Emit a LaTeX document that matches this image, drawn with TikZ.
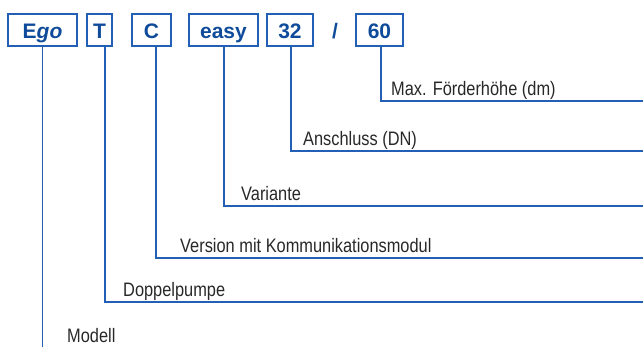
\documentclass[tikz,border=0pt]{standalone}
\usepackage{fontspec}
\setmainfont{Liberation Sans}
\newfontfamily\labfont[FakeStretch=0.84]{Liberation Sans}
\definecolor{lineblue}{RGB}{35,95,180}
\definecolor{textblue}{RGB}{15,75,155}
\definecolor{labgray}{RGB}{40,40,40}
\begin{document}
\begin{tikzpicture}[x=1pt,y=-1pt,
  codebox/.style={draw=lineblue,line width=1.3pt,minimum height=32pt,inner sep=0pt,
     text height=17pt,text depth=0pt,
     text=textblue,font=\fontsize{21}{21}\selectfont\bfseries},
  conn/.style={draw=lineblue,line width=1.3pt},
  lab/.style={anchor=base west,inner sep=0pt,text=labgray,font=\labfont\fontsize{19.5}{20}\selectfont}]
\useasboundingbox (0,0) rectangle (643,347);
% code boxes
\node[codebox,minimum width=69pt] (ego) at (42.5,30) {E\textit{go}};
\node[codebox,minimum width=25pt] (t) at (99.5,30) {T};
\node[codebox,minimum width=39pt] (c) at (151.5,30) {C};
\node[codebox,minimum width=69pt] (easy) at (223.5,30) {easy};
\node[codebox,minimum width=46pt] (dn) at (290,30) {32};
\node[text=textblue,font=\fontsize{21}{21}\selectfont\bfseries,inner sep=0pt,
  text height=17pt,text depth=0pt] (slash) at (335,30) {/};
\node[codebox,minimum width=47pt] (h) at (379.5,30) {60};
% labels
\node[lab] (lmax) at (391,96) {Max. Förderhöhe (dm)};
\node[lab] (ldn) at (303,146) {Anschluss (DN)};
\node[lab] (lvar) at (241,201) {Variante};
\node[lab] (lver) at (180,253) {Version mit Kommunikationsmodul};
\node[lab] (ldp) at (123,297) {Doppelpumpe};
\node[lab] (lmod) at (67,343) {Modell};
% line ends
\coordinate (emax) at (643,101);
\coordinate (edn) at (643,151);
\coordinate (evar) at (643,206);
\coordinate (ever) at (643,258);
\coordinate (edp) at (643,302);
\coordinate (emod) at (42.5,347);
% connectors
\draw[conn] (h.south -| 381,0) |- (emax);
\draw[conn] (dn.south -| 291,0) |- (edn);
\draw[conn] (easy.south -| 224,0) |- (evar);
\draw[conn] (c.south -| 156,0) |- (ever);
\draw[conn] (t.south -| 105,0) |- (edp);
\draw[conn] (ego.south) -- (emod);
\end{tikzpicture}
\end{document}
